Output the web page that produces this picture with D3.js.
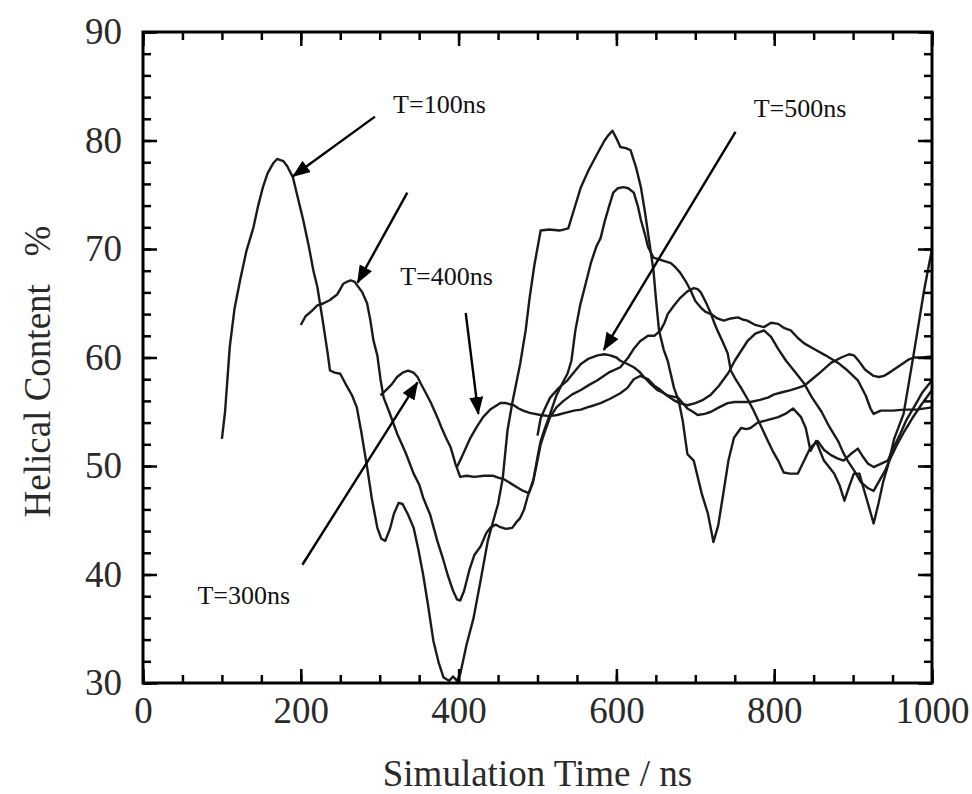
<!DOCTYPE html>
<html>
<head>
<meta charset="utf-8">
<script src="https://cdn.jsdelivr.net/npm/d3@7"></script>
<style>
  body { margin: 0; background: #fff; }
  svg text { font-family: "Liberation Serif", Tinos, "Times New Roman", Times, "DejaVu Serif", serif; }
</style>
</head>
<body>
<div id="chart"></div>
<script>
// helical content (%) vs simulation time (ns), one run per start time
const run100 = [[100,52.5],[104,55],[110,61],[116,64.5],[123,67.1],[131,69.8],[140,72],[146,74],[152,75.7],[158,77],[165,77.9],[170,78.3],[174,78.2],[178,78.1],[183,77.6],[190,76.6],[196,74.8],[203,72.7],[210,70.3],[216,68],[221,66.5],[228,63.3],[234,60.4],[237,58.8],[243,58.6],[250,58.5],[258,57.4],[265,56.5],[271,55.4],[277,53],[284,49.9],[290,47],[297,44.3],[302,43.3],[307,43.1],[313,44.2],[318,45.6],[324,46.6],[329,46.5],[336,45.5],[343,44.3],[349,42.3],[355,40],[361,37.3],[368,33.9],[375,31.8],[381,30.5],[388,30.2],[393,30.6],[398,30.2],[402,30.8],[410,33.5],[419,36],[428,39.5],[437,43.1],[443,44.7],[450,46.5],[456,48.9],[462,53.3],[468,55.8],[478,59.4],[485,62.5],[490,65.5],[496,68.5],[504,71.7],[515,71.8],[528,71.7],[539,71.9],[547,73.8],[555,75.7],[565,77.3],[576,78.8],[585,80],[590,80.5],[595,80.9],[600,80.2],[605,79.4],[612,79.3],[618,79.1],[625,77.5],[631,75.7],[636,73.5],[640,71.5],[644,69.5],[647,68],[650,65.5],[654,62.5],[660,60.7],[665,59.7],[673,57.2],[679,56],[684,54.2],[690,51.1],[698,50.5],[708,47.5],[716,45.6],[723,43],[729,44.5],[736,47.7],[742,50.5],[749,52.6],[758,53.5],[765,53.4],[770,53.5],[779,54],[790,54.2],[805,54.5],[814,54.8],[824,55.3],[834,54.5],[840,53.5],[846,51.4],[853,52.3],[863,50.5],[876,49.3],[883,48.2],[889,46.8],[896,48.3],[901,49.3],[908,49.3],[913,48],[919,46.5],[926,44.7],[932,46.5],[938,48.5],[944,50],[952,52.5],[964,54.8],[977,60.4],[990,66.2],[1000,70]];
const run200 = [[200,63],[206,63.8],[214,64.3],[221,64.8],[229,65],[237,65.3],[246,65.8],[254,66.8],[259,67],[263,67.1],[268,67],[272,66.6],[278,66],[284,65],[288,63.5],[292,61.6],[297,60.2],[301,58],[305,56.3],[312,55],[322,53],[333,51.2],[343,49.3],[350,48.3],[355,47.1],[364,45.5],[373,43.1],[380,41.5],[386,40],[393,38.5],[398,37.7],[402,37.6],[407,38.5],[414,40.5],[420,41.8],[428,42.6],[435,43.8],[440,44.3],[447,44.6],[452,44.4],[460,44.2],[468,44.3],[473,44.8],[478,45.2],[483,46],[488,47.3],[495,48.8],[500,50.8],[504,52.3],[510,53.6],[516,54.8],[524,56.5],[532,57.7],[538,58.5],[543,59.7],[548,62.5],[554,64.8],[560,66.5],[568,68.8],[575,70.3],[580,71],[585,72.5],[591,74],[596,75.2],[602,75.6],[609,75.7],[615,75.6],[622,75.2],[627,74],[631,72.7],[636,71.4],[640,70.2],[647,69.2],[656,69],[669,68.7],[675,68.3],[681,67.8],[688,67],[694,66.2],[700,65.2],[707,64.6],[713,64.2],[720,64],[728,63.6],[736,63.4],[745,63.6],[754,63.7],[760,63.5],[766,63.4],[776,63],[787,62.8],[796,63.2],[805,63.1],[813,62.7],[821,62.5],[830,61.8],[838,61.3],[850,60.8],[865,60.2],[881,59.5],[893,58.8],[906,57.9],[916,56.5],[922,55.3],[926,54.8],[935,55.1],[950,55.1],[965,55.2],[980,55.2],[1000,55.4]];
const run300 = [[301,56.5],[308,57],[315,57.5],[322,58.2],[329,58.6],[336,58.8],[343,58.6],[348,58.2],[352,57.6],[358,56.8],[365,55.8],[373,54.5],[378,53.6],[384,52.6],[390,51.7],[396,50.2],[402,49],[410,49.1],[420,49],[432,49.1],[444,49.1],[451,48.9],[457,48.8],[466,48.4],[475,48],[482,47.7],[489,47.5],[494,48.4],[500,50.5],[504,52],[510,53.3],[516,54.5],[524,55.4],[533,56],[544,56.6],[555,57],[566,57.5],[576,57.9],[590,58.6],[605,59.1],[615,60],[622,60.8],[630,61.5],[640,62],[648,62],[656,62.5],[661,63.2],[665,64],[673,64.8],[681,65.5],[690,66.1],[698,66.4],[703,66.3],[707,66],[714,65],[720,64],[724,63.2],[728,62.5],[735,61.4],[741,60.4],[745,58.8],[751,58],[758,57.2],[766,56.2],[774,55.1],[783,53.7],[792,52.3],[798,51.4],[805,50.5],[812,49.4],[820,49.3],[830,49.3],[838,50.5],[846,51.7],[855,52.3],[863,51.5],[872,51],[880,50.7],[888,50.5],[897,51.1],[906,51.6],[913,50.8],[919,50.2],[926,49.9],[935,50.2],[944,50.5],[952,51.8],[960,53],[968,54.3],[977,55.4],[988,56.8],[1000,57.9]];
const run400 = [[398,49.9],[405,51],[415,52.6],[423,53.6],[431,54.5],[440,55.2],[453,55.8],[460,55.8],[470,55.6],[476,55.3],[482,55.1],[490,54.9],[504,54.7],[515,54.6],[525,54.7],[535,54.9],[546,55.1],[555,55.2],[563,55.4],[572,55.6],[580,55.8],[592,56.2],[605,56.7],[614,57.2],[622,58],[630,58.3],[640,58],[648,57.4],[656,57],[664,56.5],[672,56.1],[680,55.8],[690,55.6],[700,55.8],[710,56.1],[720,56.6],[730,57.4],[742,58.6],[750,59.7],[758,60.6],[766,61.5],[776,62.2],[787,62.5],[796,61.9],[805,60.8],[815,59.7],[826,58.7],[838,57.6],[848,56.3],[860,55],[870,53.6],[881,52.3],[887,51.3],[893,50.5],[902,49.5],[910,48.5],[918,48],[926,47.7],[933,48.6],[940,49.5],[948,50.8],[956,52],[965,53.2],[975,54.4],[986,55.6],[1000,57]];
const run500 = [[500,52.8],[504,54.4],[510,55.4],[516,56.3],[527,57.2],[538,57.9],[547,58.7],[555,59.4],[565,59.9],[576,60.2],[585,60.3],[592,60.2],[600,60],[605,59.7],[614,59.4],[622,59.1],[629,58.7],[635,58.2],[643,57.6],[652,57],[658,56.8],[665,56.5],[672,56.4],[678,56.3],[684,55.8],[690,55.3],[697,55],[703,54.7],[712,54.8],[720,55],[730,55.4],[741,55.8],[750,55.9],[760,55.9],[770,55.9],[782,56.1],[792,56.3],[800,56.6],[810,56.8],[821,57],[830,57.2],[838,57.4],[848,58],[858,58.6],[872,59.5],[885,60],[895,60.3],[901,60.2],[908,59.6],[915,58.9],[926,58.3],[933,58.2],[939,58.3],[948,58.7],[956,59.1],[964,59.5],[970,59.8],[977,60],[988,60],[1000,60.1]];
const runs = [run100, run200, run300, run400, run500];

const xMajor = [0, 200, 400, 600, 800, 1000];
const xMinor = d3.range(0, 1001, 50);
const yMajor = [30, 40, 50, 60, 70, 80, 90];
const yMinor = d3.range(30, 91, 2);

// labels and arrows (data coordinates)
const labels = [
  { text: 'T=100ns', t: 317, v: 82.5 },
  { text: 'T=400ns', t: 326, v: 66.7 },
  { text: 'T=500ns', t: 774, v: 82.2 },
  { text: 'T=300ns', t: 69, v: 37.3 }
];
const arrows = [
  [294, 82.2, 190, 76.7],
  [335, 75.2, 272, 66.9],
  [409, 64.1, 425, 54.8],
  [751, 80.8, 584, 60.7],
  [202, 40.9, 348, 57.7]
];

const serif = '"Liberation Serif", Tinos, "Times New Roman", Times, "DejaVu Serif", serif';
const width = 972;
const height = 794;
const margin = { top: 32, right: 40, bottom: 111, left: 143 };

const svg = d3.select('#chart')
  .append('svg')
  .attr('width', width)
  .attr('height', height)
  .style('font-family', serif);

svg.append('rect').attr('width', width).attr('height', height).attr('fill', '#fff');

const x = d3.scaleLinear()
  .domain([0, 1000])
  .range([margin.left, width - margin.right]);

const y = d3.scaleLinear()
  .domain([30, 90])
  .range([height - margin.bottom, margin.top]);

// curves
const line = d3.line()
  .x(d => x(d[0]))
  .y(d => y(d[1]));

svg.append('g')
  .selectAll('path')
  .data(runs)
  .join('path')
    .attr('d', line)
    .attr('fill', 'none')
    .attr('stroke', '#1a1a1a')
    .attr('stroke-width', 2.4)
    .attr('stroke-linejoin', 'round');

// ticks point inward on all four sides
function styleAxis(g) {
  g.attr('font-family', null).attr('font-size', null);
  g.select('.domain').remove();
  g.selectAll('line').attr('stroke', '#000').attr('stroke-width', 2.5);
  g.selectAll('text')
    .style('font-family', serif)
    .attr('font-size', 37)
    .attr('fill', '#2a2a2a');
}

const axBottom = svg.append('g').attr('transform', `translate(0,${y(30)})`);
axBottom.append('g').call(d3.axisBottom(x).tickValues(xMinor).tickSize(-8).tickFormat('')).call(styleAxis);
axBottom.append('g').call(d3.axisBottom(x).tickValues(xMajor).tickSize(-14).tickPadding(14).tickFormat(d3.format('d'))).call(styleAxis);

const axTop = svg.append('g').attr('transform', `translate(0,${y(90)})`);
axTop.append('g').call(d3.axisTop(x).tickValues(xMinor).tickSize(-8).tickFormat('')).call(styleAxis);
axTop.append('g').call(d3.axisTop(x).tickValues(xMajor).tickSize(-14).tickFormat('')).call(styleAxis);

const axLeft = svg.append('g').attr('transform', `translate(${x(0)},0)`);
axLeft.append('g').call(d3.axisLeft(y).tickValues(yMinor).tickSize(-8).tickFormat('')).call(styleAxis);
axLeft.append('g').call(d3.axisLeft(y).tickValues(yMajor).tickSize(-14).tickPadding(21).tickFormat(d3.format('d'))).call(styleAxis);

const axRight = svg.append('g').attr('transform', `translate(${x(1000)},0)`);
axRight.append('g').call(d3.axisRight(y).tickValues(yMinor).tickSize(-8).tickFormat('')).call(styleAxis);
axRight.append('g').call(d3.axisRight(y).tickValues(yMajor).tickSize(-14).tickFormat('')).call(styleAxis);

// frame
svg.append('rect')
  .attr('x', x(0))
  .attr('y', y(90))
  .attr('width', x(1000) - x(0))
  .attr('height', y(30) - y(90))
  .attr('fill', 'none')
  .attr('stroke', '#000')
  .attr('stroke-width', 3);

// axis titles
svg.append('text')
  .attr('x', (x(0) + x(1000)) / 2)
  .attr('y', 786)
  .attr('text-anchor', 'middle')
  .attr('font-size', 37)
  .attr('fill', '#2a2a2a')
  .style('font-family', serif)
  .text('Simulation Time / ns');

svg.append('text')
  .attr('transform', `translate(50,${(y(30) + y(90)) / 2 + 14}) rotate(-90)`)
  .attr('text-anchor', 'middle')
  .attr('font-size', 37)
  .attr('fill', '#2a2a2a')
  .style('font-family', serif)
  .style('white-space', 'pre')
  .text('Helical Content   %');

// annotations
svg.append('defs').append('marker')
  .attr('id', 'head')
  .attr('markerUnits', 'userSpaceOnUse')
  .attr('viewBox', '0 0 18 14')
  .attr('markerWidth', 18)
  .attr('markerHeight', 14)
  .attr('refX', 17)
  .attr('refY', 7)
  .attr('orient', 'auto')
  .append('path')
    .attr('d', 'M0,0L18,7L0,14Z')
    .attr('fill', '#000');

svg.append('g')
  .selectAll('line')
  .data(arrows)
  .join('line')
    .attr('x1', d => x(d[0]))
    .attr('y1', d => y(d[1]))
    .attr('x2', d => x(d[2]))
    .attr('y2', d => y(d[3]))
    .attr('stroke', '#000')
    .attr('stroke-width', 2.4)
    .attr('marker-end', 'url(#head)');

svg.append('g')
  .selectAll('text')
  .data(labels)
  .join('text')
    .attr('x', d => x(d.t))
    .attr('y', d => y(d.v))
    .attr('font-size', 26)
    .attr('fill', '#111')
    .style('font-family', serif)
    .text(d => d.text);
</script>
</body>
</html>
